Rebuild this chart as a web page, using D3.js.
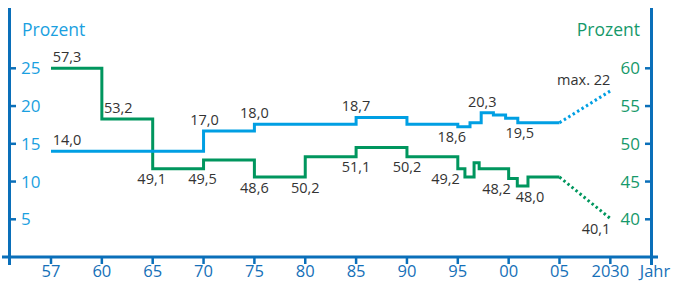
<!DOCTYPE html>
<html><head><meta charset="utf-8">
<script src="https://cdn.jsdelivr.net/npm/d3@7"></script>
<style>html,body{margin:0;padding:0;background:#fff;}svg{display:block;font-family:"Open Sans",sans-serif;}</style>
</head><body>
<svg id="c" width="675" height="281"></svg>
<script>
// ---- data ----
const xBreaks = [1957,1960,1965,1970,1975,1980,1985,1990,1995,2000,2005,2030];
const xTickLabels = ["57","60","65","70","75","80","85","90","95","00","05","2030"];
const leftTicks = [5,10,15,20,25];
const rightTicks = [40,45,50,55,60];

// Blue series (left axis, Prozent): step start years and values as drawn
const blueYears  = [1957,1970,1975,1985,1990,1995,1996.2,1997.3,1998.5,1999.7,2000.9,2005];
const blueValues = [14.0,16.7,17.6,18.5,17.6,17.25,17.8,19.1,18.8,18.4,17.8,17.8];
const blueProjYears  = [2005,2030];
const blueProjValues = [17.8,22.0];

// Green series (right axis, Prozent)
const greenYears  = [1957,1960,1965,1970,1975,1980,1985,1990,1995,1995.7,1996.6,1997.1,2000,2000.85,2001.9,2005];
const greenValues = [60.0,53.3,46.7,47.85,45.6,48.3,49.5,48.3,46.7,45.6,47.5,46.7,45.4,44.4,45.6,45.6];
const greenProjYears  = [2005,2030];
const greenProjValues = [45.6,40.1];

// value labels: text, anchor year, anchor value, alignment, side
const blueLabelText  = ["14,0","17,0","18,0","18,7","20,3","18,6","19,5","max. 22"];
const blueLabelYear  = [1957.1,1970.1,1975,1985,1997.4,1994.4,2001.1,2030];
const blueLabelValue = [14.0,16.7,17.6,18.5,19.1,17.25,17.8,22.0];
const blueLabelAlign = ["start","middle","middle","middle","middle","middle","middle","end"];
const blueLabelSide  = ["above","above","above","above","above","below","below","above"];

const greenLabelText  = ["57,3","53,2","49,1","49,5","48,6","50,2","51,1","50,2","49,2","48,2","48,0","40,1"];
const greenLabelYear  = [1957.1,1960.2,1964.9,1969.9,1975,1980,1985,1990,1993.8,1998.8,2002.1,2030];
const greenLabelValue = [60.0,53.3,46.7,46.7,45.6,45.6,48.3,48.3,46.7,45.4,44.4,40.1];
const greenLabelAlign = ["start","start","middle","middle","middle","middle","middle","middle","middle","middle","middle","end"];
const greenLabelSide  = ["above","above","below","below","below","below","below","below","below","below","below","below"];

// ---- styles ----
const BLUE = "#009fe3", GREEN = "#00965e", AXIS = "#0a6fb9";
const LBLUE_TXT = "#1aa0e0", BOTTOM_TXT = "#1570b8", GREEN_TXT = "#16996a", VAL_TXT = "#333333";

const svg = d3.select("#c");

// piecewise linear x scale: equal spacing between labelled breaks
const step = 50.85, x0 = 51;
const x = d3.scaleLinear().domain(xBreaks).range(xBreaks.map((d,i)=>x0 + i*step));
const yL = d3.scaleLinear().domain([0,25]).range([257.05,68.3]);
const yR = d3.scaleLinear().domain([40,60]).range([219.3,68.3]);

const axisY = 257, leftX = 9.5, rightX = 651.5;

// axes lines
svg.append("line").attr("x1",2).attr("x2",658).attr("y1",axisY).attr("y2",axisY)
  .attr("stroke",AXIS).attr("stroke-width",3);
svg.append("line").attr("x1",leftX).attr("x2",leftX).attr("y1",8).attr("y2",265)
  .attr("stroke",AXIS).attr("stroke-width",3);
svg.append("line").attr("x1",rightX).attr("x2",rightX).attr("y1",8).attr("y2",265)
  .attr("stroke",AXIS).attr("stroke-width",3);

// bottom ticks
const bt = svg.append("g");
xBreaks.forEach((b,i)=>{
  bt.append("line").attr("x1",x(b)).attr("x2",x(b)).attr("y1",axisY).attr("y2",264)
    .attr("stroke",AXIS).attr("stroke-width",2.5);
  bt.append("text").attr("x",x(b)).attr("y",277).attr("text-anchor","middle")
    .attr("fill",BOTTOM_TXT).attr("font-size",16.5).text(xTickLabels[i]);
});
bt.append("text").attr("x",655).attr("y",277).attr("text-anchor","middle")
  .attr("fill",BOTTOM_TXT).attr("font-size",16.5).text("Jahr");

// left ticks
leftTicks.forEach(t=>{
  svg.append("line").attr("x1",leftX).attr("x2",16).attr("y1",yL(t)).attr("y2",yL(t))
    .attr("stroke",AXIS).attr("stroke-width",2.5);
  svg.append("text").attr("x",21).attr("y",yL(t)).attr("dy","0.36em")
    .attr("fill",LBLUE_TXT).attr("font-size",17).text(t);
});
svg.append("text").attr("x",22).attr("y",36).attr("fill",LBLUE_TXT).attr("font-size",17.5).text("Prozent");

// right ticks
rightTicks.forEach(t=>{
  svg.append("line").attr("x1",645).attr("x2",rightX).attr("y1",yR(t)).attr("y2",yR(t))
    .attr("stroke",AXIS).attr("stroke-width",2.5);
  svg.append("text").attr("x",640).attr("y",yR(t)).attr("dy","0.36em").attr("text-anchor","end")
    .attr("fill",GREEN_TXT).attr("font-size",17).text(t);
});
svg.append("text").attr("x",640).attr("y",36).attr("text-anchor","end").attr("fill",GREEN_TXT).attr("font-size",17.5).text("Prozent");

// series
const stepLine = (ys)=> d3.line().x(d=>x(d[0])).y(d=>ys(d[1])).curve(d3.curveStepAfter);
const straight = (ys)=> d3.line().x(d=>x(d[0])).y(d=>ys(d[1]));

const blueData = blueYears.map((y,i)=>[y,blueValues[i]]);
const greenData = greenYears.map((y,i)=>[y,greenValues[i]]);
const blueProj = blueProjYears.map((y,i)=>[y,blueProjValues[i]]);
const greenProj = greenProjYears.map((y,i)=>[y,greenProjValues[i]]);

svg.append("path").datum(greenData).attr("d",stepLine(yR)).attr("fill","none")
  .attr("stroke",GREEN).attr("stroke-width",3).attr("stroke-linejoin","miter");
svg.append("path").datum(blueData).attr("d",stepLine(yL)).attr("fill","none")
  .attr("stroke",BLUE).attr("stroke-width",3).attr("stroke-linejoin","miter");
svg.append("path").datum(blueProj).attr("d",straight(yL)).attr("fill","none")
  .attr("stroke",BLUE).attr("stroke-width",3).attr("stroke-dasharray","2.4,2.8");
svg.append("path").datum(greenProj).attr("d",straight(yR)).attr("fill","none")
  .attr("stroke",GREEN).attr("stroke-width",3).attr("stroke-dasharray","2.4,2.8");

// value labels
function labels(texts, years, vals, aligns, sides, ys){
  texts.forEach((t,i)=>{
    const yy = ys(vals[i]) + (sides[i]==="above" ? -6 : 15.5);
    svg.append("text").attr("x",x(years[i])).attr("y",yy).attr("text-anchor",aligns[i])
      .attr("fill",VAL_TXT).attr("font-size",14.5).text(t);
  });
}
labels(blueLabelText, blueLabelYear, blueLabelValue, blueLabelAlign, blueLabelSide, yL);
labels(greenLabelText, greenLabelYear, greenLabelValue, greenLabelAlign, greenLabelSide, yR);
</script>
</body></html>
